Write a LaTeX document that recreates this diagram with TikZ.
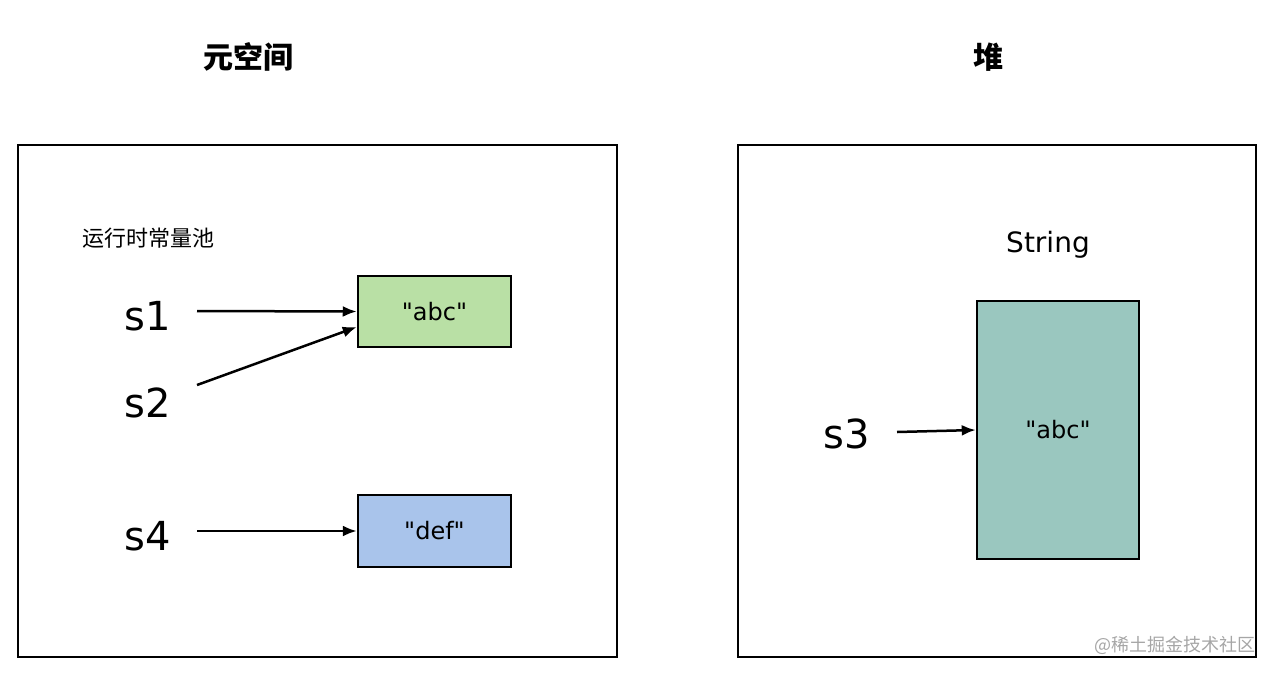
\documentclass[tikz,border=0pt]{standalone}
\usepackage{fontspec}
\setmainfont{DejaVu Sans}[Ligatures=TeXOff]
\newfontfamily\cjk{Noto Sans CJK SC}
\usetikzlibrary{arrows.meta}
\definecolor{poolgreen}{HTML}{B9E0A5}
\definecolor{poolblue}{HTML}{A9C4EB}
\definecolor{heapteal}{HTML}{9AC7BF}
\tikzset{every picture/.style={line width=2.5pt}}
\begin{document}
\begin{tikzpicture}[x=1pt,y=1pt,yscale=-1,
    cell/.style={draw,rectangle,inner sep=0pt,font=\fontsize{24}{28}\selectfont},
    var/.style={inner sep=0pt,font=\fontsize{40}{46}\selectfont},
    title/.style={font=\cjk\bfseries\fontsize{30}{34}\selectfont},
    ptr/.style={-{Latex[length=14pt,width=11pt]}}]
    \useasboundingbox (0,0) rectangle (1276,675);

    % titles
    \node[title] (tmeta) at (248,57) {元空间};
    \node[title] (theap) at (988,57) {堆};

    % regions
    \draw (18,145) rectangle (617,657);
    \draw (738,145) rectangle (1256,657);
    \node[font=\cjk\fontsize{22}{26}\selectfont] (pool) at (148,238) {运行时常量池};

    % constant pool entries
    \node[cell,fill=poolgreen,minimum width=153pt,minimum height=71pt] (abc) at (434.5,311.5) {"abc"};
    \node[cell,fill=poolblue,minimum width=153pt,minimum height=72pt] (def) at (434.5,531) {"def"};
    \node[font=\fontsize{28}{32}\selectfont] (lstr) at (1048,245) {String};
    \node[cell,fill=heapteal,minimum width=162pt,minimum height=258pt] (obj) at (1058,430) {"abc"};

    % variables
    \node[var] (s1) at (148,316) {s1};
    \node[var] (s2) at (148,403) {s2};
    \node[var] (s4) at (148,536) {s4};
    \node[var] (s3) at (847,434) {s3};

    % references
    \coordinate (a1) at (197,311);
    \coordinate (a2) at (197,385);
    \coordinate (a4) at (197,531);
    \coordinate (a3) at (897,432);
    \draw[ptr] (a1) -- (abc.west);
    \draw[ptr] (a2) -- (abc.west |- 0,327);
    \draw[ptr] (a4) -- (def.west);
    \draw[ptr] (a3) -- (obj.west);

    \node[font=\cjk\fontsize{18}{20}\selectfont,text=gray!70] (mark) at (1175,645) {@稀土掘金技术社区};
\end{tikzpicture}
\end{document}
